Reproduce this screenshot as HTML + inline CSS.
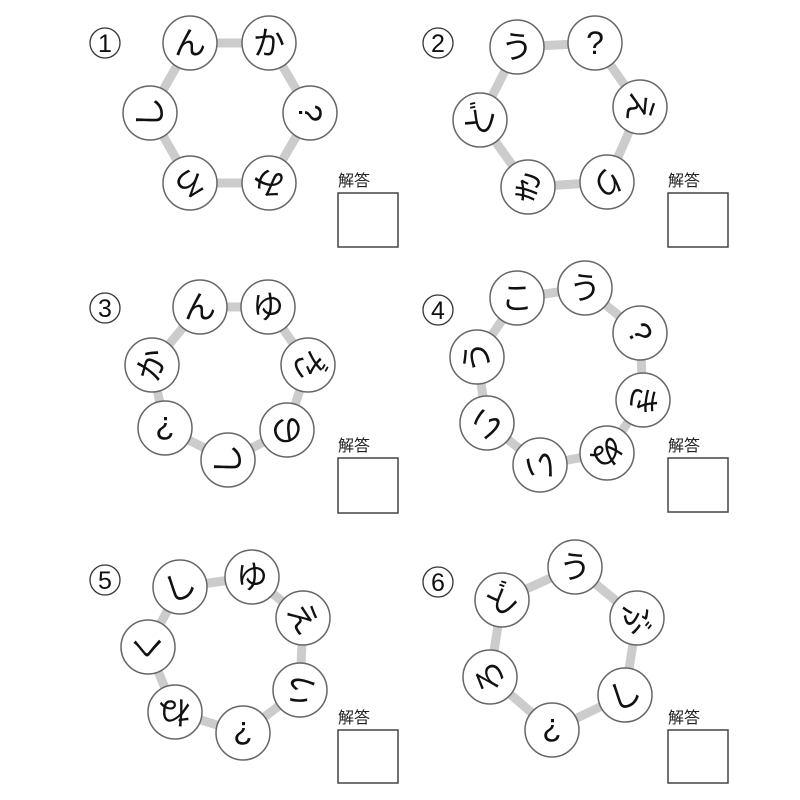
<!DOCTYPE html>
<html><head><meta charset="utf-8"><style>
html,body{margin:0;padding:0;background:#fff;}
svg{display:block;}
text{font-family:"Liberation Sans","Noto Sans CJK JP",sans-serif;}
.k{font-size:32px;fill:#111;text-anchor:middle;dominant-baseline:central;}
.n{font-size:25px;fill:#111;text-anchor:middle;dominant-baseline:central;}
.a{font-size:16px;fill:#222;}
.ring{fill:none;stroke:#cccccc;stroke-width:9;stroke-linejoin:round;}
.c{fill:#fff;stroke:#666;stroke-width:1.5;}
.box{fill:#fff;stroke:#444;stroke-width:1.5;}
.nc{fill:#fff;stroke:#333;stroke-width:1.3;}
</style></head><body>
<svg width="800" height="800" viewBox="0 0 800 800" xmlns="http://www.w3.org/2000/svg">
<!-- Puzzle 1 -->
<polygon class="ring" points="190,43 269,43 310,113 269,183 190,183 150,113"/>
<g><circle class="c" cx="190" cy="43" r="27"/><text class="k" x="190" y="43">ん</text></g>
<g><circle class="c" cx="269" cy="43" r="27"/><text class="k" x="269" y="43">か</text></g>
<g><circle class="c" cx="310" cy="113" r="27"/><text class="k" x="310" y="113" transform="rotate(90 310 113)">?</text></g>
<g><circle class="c" cx="269" cy="183" r="27"/><text class="k" x="269" y="183" transform="rotate(180 269 183)">み</text></g>
<g><circle class="c" cx="190" cy="183" r="27"/><text class="k" x="190" y="183" transform="rotate(150 190 183)">ろ</text></g>
<g><circle class="c" cx="150" cy="113" r="27"/><text class="k" x="150" y="113" transform="rotate(-90 150 113)">し</text></g>
<circle class="nc" cx="105" cy="43" r="15"/><text class="n" x="105" y="44">1</text>
<text class="a" x="338" y="186">解答</text><rect class="box" x="338" y="193" width="60" height="54"/>

<!-- Puzzle 2 -->
<polygon class="ring" points="517,47 595,43 640,107 607,182 528,187 480,120"/>
<g><circle class="c" cx="517" cy="47" r="27"/><text class="k" x="517" y="47">う</text></g>
<g><circle class="c" cx="595" cy="43" r="27"/><text class="k" x="595" y="43">?</text></g>
<g><circle class="c" cx="640" cy="107" r="27"/><text class="k" x="640" y="107" transform="rotate(100 640 107)">え</text></g>
<g><circle class="c" cx="607" cy="182" r="27"/><text class="k" x="607" y="182" transform="rotate(150 607 182)">り</text></g>
<g><circle class="c" cx="528" cy="187" r="27"/><text class="k" x="528" y="187" transform="rotate(200 528 187)">き</text></g>
<g><circle class="c" cx="480" cy="120" r="27"/><text class="k" x="480" y="120" transform="rotate(-70 480 120)">ど</text></g>
<circle class="nc" cx="438" cy="43" r="15"/><text class="n" x="438" y="44">2</text>
<text class="a" x="668" y="186">解答</text><rect class="box" x="668" y="193" width="60" height="54"/>

<!-- Puzzle 3 -->
<polygon class="ring" points="200,307 268,307 308,365 287,430 228,460 165,428 152,365"/>
<g><circle class="c" cx="200" cy="307" r="27"/><text class="k" x="200" y="307">ん</text></g>
<g><circle class="c" cx="268" cy="307" r="27"/><text class="k" x="268" y="307">ゆ</text></g>
<g><circle class="c" cx="308" cy="365" r="27"/><text class="k" x="308" y="365" transform="rotate(60 308 365)">ざ</text></g>
<g><circle class="c" cx="287" cy="430" r="27"/><text class="k" x="287" y="430" transform="rotate(160 287 430)">の</text></g>
<g><circle class="c" cx="228" cy="460" r="27"/><text class="k" x="228" y="460" transform="rotate(-90 228 460)">し</text></g>
<g><circle class="c" cx="165" cy="428" r="27"/><text class="k" x="165" y="428" transform="rotate(180 165 428)">?</text></g>
<g><circle class="c" cx="152" cy="365" r="27"/><text class="k" x="152" y="365" transform="rotate(-70 152 365)">か</text></g>
<circle class="nc" cx="105" cy="308" r="15"/><text class="n" x="105" y="309">3</text>
<text class="a" x="338" y="451">解答</text><rect class="box" x="338" y="458" width="60" height="55"/>

<!-- Puzzle 4 -->
<polygon class="ring" points="517,298 585,288 640,333 643,400 607,453 540,465 487,423 477,357"/>
<g><circle class="c" cx="517" cy="298" r="27"/><text class="k" x="517" y="298">こ</text></g>
<g><circle class="c" cx="585" cy="288" r="27"/><text class="k" x="585" y="288">う</text></g>
<g><circle class="c" cx="640" cy="333" r="27"/><text class="k" x="640" y="333" transform="rotate(60 640 333)">?</text></g>
<g><circle class="c" cx="643" cy="400" r="27"/><text class="k" x="643" y="400" transform="rotate(100 643 400)">き</text></g>
<g><circle class="c" cx="607" cy="453" r="27"/><text class="k" x="607" y="453" transform="rotate(140 607 453)">ぬ</text></g>
<g><circle class="c" cx="540" cy="465" r="27"/><text class="k" x="540" y="465" transform="rotate(180 540 465)">い</text></g>
<g><circle class="c" cx="487" cy="423" r="27"/><text class="k" x="487" y="423" transform="rotate(-130 487 423)">い</text></g>
<g><circle class="c" cx="477" cy="357" r="27"/><text class="k" x="477" y="357" transform="rotate(-90 477 357)">う</text></g>
<circle class="nc" cx="438" cy="310" r="15"/><text class="n" x="438" y="311">4</text>
<text class="a" x="668" y="451">解答</text><rect class="box" x="668" y="458" width="60" height="54"/>

<!-- Puzzle 5 -->
<polygon class="ring" points="180,587 252,577 303,618 300,690 243,733 175,712 148,647"/>
<g><circle class="c" cx="180" cy="587" r="27"/><text class="k" x="180" y="587" transform="rotate(-20 180 587)">し</text></g>
<g><circle class="c" cx="252" cy="577" r="27"/><text class="k" x="252" y="577">ゆ</text></g>
<g><circle class="c" cx="303" cy="618" r="27"/><text class="k" x="303" y="618" transform="rotate(60 303 618)">え</text></g>
<g><circle class="c" cx="300" cy="690" r="27"/><text class="k" x="300" y="690" transform="rotate(110 300 690)">い</text></g>
<g><circle class="c" cx="243" cy="733" r="27"/><text class="k" x="243" y="733" transform="rotate(180 243 733)">?</text></g>
<g><circle class="c" cx="175" cy="712" r="27"/><text class="k" x="175" y="712" transform="rotate(180 175 712)">ね</text></g>
<g><circle class="c" cx="148" cy="647" r="27"/><text class="k" x="148" y="647" transform="rotate(-90 148 647)">く</text></g>
<circle class="nc" cx="105" cy="580" r="15"/><text class="n" x="105" y="581">5</text>
<text class="a" x="338" y="723">解答</text><rect class="box" x="338" y="730" width="60" height="53"/>

<!-- Puzzle 6 -->
<polygon class="ring" points="502,600 575,567 637,618 625,695 552,730 490,677"/>
<g><circle class="c" cx="575" cy="567" r="27"/><text class="k" x="575" y="567">う</text></g>
<g><circle class="c" cx="637" cy="618" r="27"/><text class="k" x="637" y="618" transform="rotate(70 637 618)">ぶ</text></g>
<g><circle class="c" cx="625" cy="695" r="27"/><text class="k" x="625" y="695" transform="rotate(-20 625 695)">し</text></g>
<g><circle class="c" cx="552" cy="730" r="27"/><text class="k" x="552" y="730" transform="rotate(180 552 730)">?</text></g>
<g><circle class="c" cx="490" cy="677" r="27"/><text class="k" x="490" y="677" transform="rotate(-110 490 677)">ろ</text></g>
<g><circle class="c" cx="502" cy="600" r="27"/><text class="k" x="502" y="600" transform="rotate(-40 502 600)">ど</text></g>
<circle class="nc" cx="438" cy="582" r="15"/><text class="n" x="438" y="583">6</text>
<text class="a" x="668" y="723">解答</text><rect class="box" x="668" y="730" width="60" height="53"/>
</svg>
</body></html>
